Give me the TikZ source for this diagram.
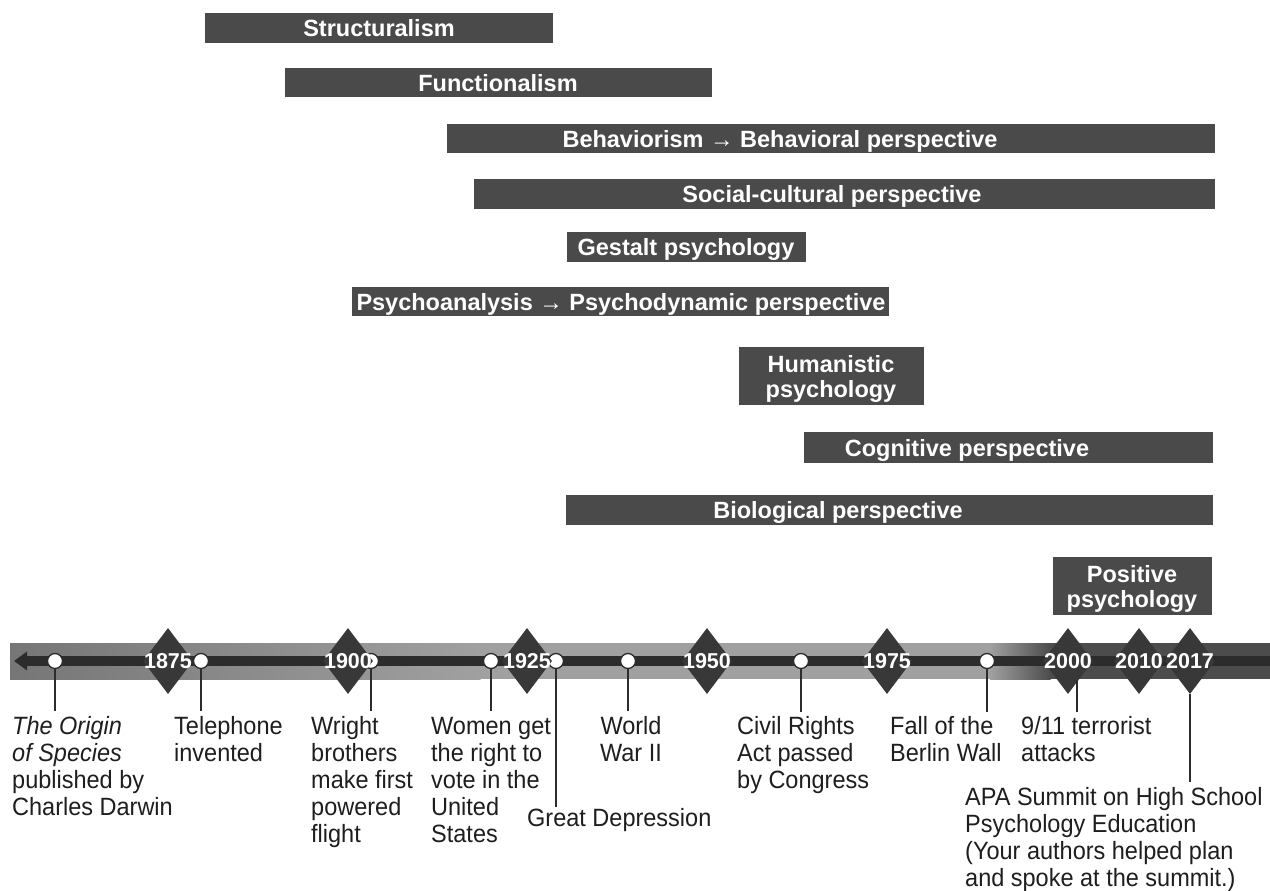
\documentclass[tikz,border=0pt]{standalone}
\usepackage{fontspec}
\setmainfont{Liberation Sans}
\newfontfamily\lblfont{Liberation Sans}[FakeStretch=0.94]
\usetikzlibrary{shapes.geometric,arrows.meta}
\definecolor{barcol}{HTML}{4A4A4A}
\definecolor{diacol}{HTML}{383838}
\definecolor{linecol}{HTML}{2C2C2C}
\definecolor{bandA}{HTML}{767676}
\definecolor{bandB}{HTML}{A0A0A0}
\definecolor{bandC}{HTML}{4C4C4C}
\definecolor{txtcol}{HTML}{1E1E1E}
\newcommand\fstrut{\rule{0pt}{19pt}}
\newcommand\bstrut{\rule{0pt}{17.5pt}}
\begin{document}
\begin{tikzpicture}[x=1pt,y=-1pt,
  bar/.style={fill=barcol},
  bartext/.style={anchor=north, inner sep=0, align=center, text=white, font=\bfseries\fontsize{23.5}{25}\selectfont},
  lbl/.style={anchor=north west, inner sep=0, align=left, text=txtcol, font=\lblfont\fontsize{25}{27}\selectfont},
  evt/.style={circle, fill=white, draw=linecol, line width=1.3pt, minimum size=15pt, inner sep=0},
  yr/.style={diamond, fill=diacol, minimum width=50pt, minimum height=66pt, inner sep=0},
  yrtext/.style={anchor=base, inner sep=0, text=white, font=\bfseries\fontsize{21.5}{23}\selectfont},
  tick/.style={draw=linecol, line width=1.3pt}
]
\useasboundingbox[fill=white] (0,0) rectangle (1270,891);

% ---- period bars ----
\fill[bar] (205,13) rectangle (553,43);
\node[bartext] (t1) at (379,19) {\bstrut Structuralism};
\fill[bar] (285,68) rectangle (712,97);
\node[bartext] (t2) at (498,73.5) {\bstrut Functionalism};
\fill[bar] (447,124) rectangle (1215,153);
\node[bartext] (t3) at (780,129.5) {\bstrut Behaviorism → Behavioral perspective};
\fill[bar] (474,179) rectangle (1215,209);
\node[bartext] (t4) at (832,185) {\bstrut Social-cultural perspective};
\fill[bar] (567,232) rectangle (806,262);
\node[bartext] (t5) at (686,238) {\bstrut Gestalt psychology};
\fill[bar] (352,287) rectangle (889,316);
\node[bartext] (t6) at (621,292.5) {\bstrut Psychoanalysis → Psychodynamic perspective};
\fill[bar] (739,347) rectangle (924,405);
\node[bartext] (t7) at (831,354.5) {\bstrut Humanistic\\psychology};
\fill[bar] (804,432) rectangle (1213,463);
\node[bartext] (t8) at (967,438.5) {\bstrut Cognitive perspective};
\fill[bar] (566,495) rectangle (1213,525);
\node[bartext] (t9) at (838,501) {\bstrut Biological perspective};
\fill[bar] (1053,557) rectangle (1212,615);
\node[bartext] (t10) at (1132,564.5) {\bstrut Positive\\psychology};

% ---- timeline band ----
\fill[left color=bandA, right color=bandB] (10,643) rectangle (480.5,679);
\fill[bandB] (480,643) rectangle (990.5,679);
\fill[left color=bandB, right color=bandC] (990,643) rectangle (1050.5,679);
\fill[bandC] (1050,643) rectangle (1270,679);
\coordinate (tl) at (14,661);
\coordinate (tr) at (1270,661);
\draw[linecol, line width=10pt, -{Triangle[width=18pt,length=13pt]}] (tr) -- (tl);

% ---- event circles ----
\node[evt] (e1) at (55,661) {};
\node[evt] (e2) at (201,661) {};
\node[evt] (e3) at (371,661) {};
\node[evt] (e4) at (491,661) {};
\node[evt] (e5) at (556,661) {};
\node[evt] (e6) at (628,661) {};
\node[evt] (e7) at (801,661) {};
\node[evt] (e8) at (987,661) {};

% ---- year diamonds ----
\node[yr] (d1875) at (168,661) {};
\node[yr] (d1900) at (348,661) {};
\node[yr] (d1925) at (527,661) {};
\node[yr] (d1950) at (707,661) {};
\node[yr] (d1975) at (887,661) {};
\node[yr] (d2000) at (1068,661) {};
\node[yr] (d2010) at (1139,661) {};
\node[yr] (d2017) at (1190,661) {};
\node[yrtext] (y1875) at ([yshift=-7.5pt]d1875.center) {1875};
\node[yrtext] (y1900) at ([yshift=-7.5pt]d1900.center) {1900};
\node[yrtext] (y1925) at ([yshift=-7.5pt]d1925.center) {1925};
\node[yrtext] (y1950) at ([yshift=-7.5pt]d1950.center) {1950};
\node[yrtext] (y1975) at ([yshift=-7.5pt]d1975.center) {1975};
\node[yrtext] (y2000) at ([yshift=-7.5pt]d2000.center) {2000};
\node[yrtext] (y2010) at ([yshift=-7.5pt]d2010.center) {2010};
\node[yrtext] (y2017) at ([yshift=-7.5pt]d2017.center) {2017};

% ---- ticks ----
\coordinate (c1) at (55,711);
\coordinate (c2) at (201,711);
\coordinate (c3) at (371,711);
\coordinate (c4) at (491,711);
\coordinate (c5) at (556,807);
\coordinate (c6) at (628,711);
\coordinate (c7) at (801,712);
\coordinate (c8) at (987,712);
\coordinate (s9) at (1077,680);
\coordinate (c9) at (1077,712);
\coordinate (c10) at (1190,782);
\draw[tick] (e1.south) -- (c1);
\draw[tick] (e2.south) -- (c2);
\draw[tick] (e3.south) -- (c3);
\draw[tick] (e4.south) -- (c4);
\draw[tick] (e5.south) -- (c5);
\draw[tick] (e6.south) -- (c6);
\draw[tick] (e7.south) -- (c7);
\draw[tick] (e8.south) -- (c8);
\draw[tick] (s9) -- (c9);
\draw[tick] (d2017.south) -- (c10);

% ---- labels ----
\node[lbl] (l1) at (12,715.5) {\fstrut\textit{The Origin}\\\textit{of Species}\\published by\\Charles Darwin};
\node[lbl] (l2) at (174,715.5) {\fstrut Telephone\\invented};
\node[lbl] (l3) at (311,715.5) {\fstrut Wright\\brothers\\make first\\powered\\flight};
\node[lbl] (l4) at (431,715.5) {\fstrut Women get\\the right to\\vote in the\\United\\States};
\node[lbl] (l5) at (527,807) {\fstrut Great Depression};
\node[lbl, anchor=north, align=center] (l6) at (631,715.5) {\fstrut World\\War II};
\node[lbl] (l7) at (737,715.5) {\fstrut Civil Rights\\Act passed\\by Congress};
\node[lbl] (l8) at (890,715.5) {\fstrut Fall of the\\Berlin Wall};
\node[lbl] (l9) at (1021,715.5) {\fstrut 9/11 terrorist\\attacks};
\node[lbl] (l10) at (965,786) {\fstrut APA Summit on High School\\Psychology Education\\(Your authors helped plan\\and spoke at the summit.)};
\end{tikzpicture}
\end{document}
